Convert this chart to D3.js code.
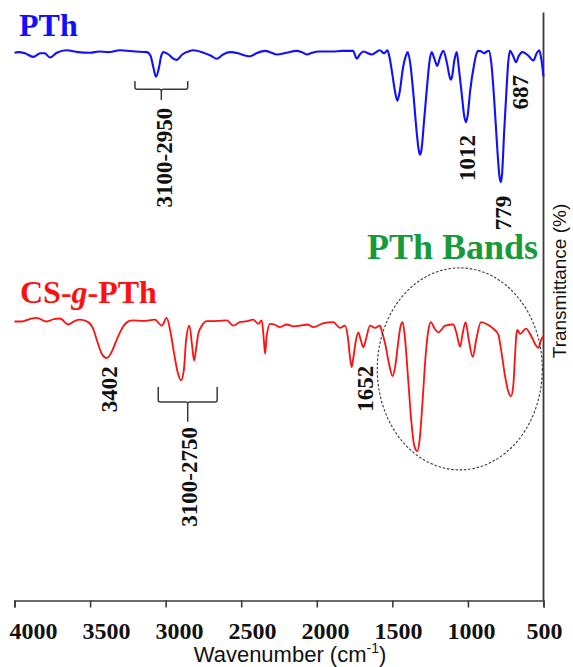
<!DOCTYPE html>
<html>
<head>
<meta charset="utf-8">
<script src="https://cdn.jsdelivr.net/npm/d3@7"></script>
<style>
  html, body { margin: 0; padding: 0; background: #fff; }
  svg { display: block; }
</style>
</head>
<body>
<svg id="chart" width="573" height="667"></svg>
<script>
// ---- Data (wavenumber cm-1, transmittance in arbitrary % units, curves offset) ----
const xTicks = [4000, 3500, 3000, 2500, 2000, 1500, 1000, 500];

const pthSpectrum = [
  [4000, 91.3],[3975, 91.4],[3930, 91.2],[3876, 90.6],[3830, 91.2],[3800, 91.2],[3766, 90.5],
  [3720, 91.3],[3655, 91.7],[3580, 91.4],[3500, 91.3],[3440, 91.5],[3380, 91.4],[3302, 91.7],
  [3200, 91.5],[3125, 91.4],[3100, 90.8],[3080, 88.7],[3064, 87.3],[3045, 88.7],[3030, 90.7],
  [3015, 91.4],[2980, 91.0],[2950, 90.3],[2927, 90.1],[2890, 91.0],[2850, 91.5],[2817, 91.7],
  [2750, 91.3],[2700, 90.8],[2662, 90.3],[2620, 91.0],[2574, 91.4],[2520, 91.2],[2470, 90.8],
  [2441, 90.7],[2400, 91.2],[2342, 91.6],[2300, 91.3],[2264, 91.0],[2200, 91.3],[2132, 91.6],
  [2100, 91.4],[2066, 91.0],[2030, 91.3],[1990, 91.5],[1900, 91.5],[1830, 91.6],[1760, 91.6],
  [1736, 90.3],[1715, 91.0],[1692, 91.5],[1637, 91.0],[1582, 91.7],[1555, 91.2],[1533, 91.7],
  [1520, 90.7],[1500, 87.7],[1480, 84.5],[1467, 83.3],[1452, 84.7],[1430, 88.7],[1410, 90.8],
  [1398, 91.4],[1380, 89.2],[1360, 84.2],[1340, 78.3],[1325, 75.0],[1317, 74.3],[1308, 75.0],
  [1290, 80.0],[1270, 85.8],[1255, 89.7],[1240, 91.4],[1222, 90.3],[1203, 89.1],[1185, 90.5],
  [1163, 91.6],[1140, 89.7],[1120, 87.2],[1114, 86.8],[1105, 87.3],[1090, 90.0],[1074, 91.4],
  [1060, 88.7],[1040, 84.2],[1025, 80.8],[1013, 79.7],[1002, 80.8],[985, 85.0],[960, 89.2],
  [945, 91.0],[931, 91.6],[910, 91.5],[894, 91.2],[875, 91.5],[861, 91.6],[845, 89.5],
  [825, 83.0],[805, 75.0],[792, 70.8],[783, 69.7],[775, 70.8],[760, 78.3],[745, 85.0],
  [735, 89.2],[722, 91.6],[700, 90.7],[682, 89.7],[665, 90.7],[638, 91.4],[600, 90.8],
  [567, 90.0],[545, 91.2],[528, 91.7],[515, 90.3],[500, 87.3]
];

const csgpthSpectrum = [
  [4000, 46.5],[3952, 46.5],[3900, 46.9],[3853, 47.1],[3787, 46.5],[3740, 46.9],[3699, 47.0],
  [3644, 46.0],[3600, 46.6],[3567, 46.8],[3512, 46.4],[3480, 45.3],[3450, 43.0],[3420, 41.0],
  [3390, 40.4],[3360, 41.3],[3320, 43.7],[3280, 45.7],[3240, 46.6],[3214, 46.7],[3150, 46.6],
  [3070, 46.8],[3045, 46.2],[3026, 45.8],[2993, 47.1],[2970, 45.0],[2945, 41.3],[2920, 38.0],
  [2898, 36.7],[2880, 38.3],[2865, 43.3],[2843, 45.8],[2825, 42.5],[2812, 40.0],[2798, 42.0],
  [2784, 44.5],[2760, 45.8],[2728, 46.55],[2650, 46.6],[2596, 46.7],[2552, 45.8],[2510, 46.4],
  [2464, 46.55],[2420, 46.8],[2387, 46.1],[2364, 46.7],[2352, 44.0],[2342, 41.1],[2332, 44.0],
  [2309, 46.1],[2280, 46.0],[2244, 45.55],[2199, 46.0],[2155, 45.7],[2111, 45.8],[2060, 46.0],
  [2023, 45.55],[1960, 46.2],[1891, 46.4],[1846, 45.45],[1813, 45.8],[1795, 44.0],[1780, 40.5],
  [1769, 38.9],[1758, 40.5],[1740, 43.5],[1725, 44.7],[1710, 43.5],[1692, 42.2],[1675, 43.5],
  [1648, 45.8],[1615, 45.45],[1582, 45.8],[1571, 45.0],[1545, 42.5],[1520, 39.2],[1498, 37.4],
  [1480, 39.2],[1460, 43.3],[1445, 45.8],[1432, 46.4],[1415, 43.3],[1395, 36.7],[1375, 30.0],
  [1355, 25.8],[1335, 24.9],[1320, 26.7],[1300, 33.3],[1280, 40.8],[1262, 45.0],[1246, 46.4],
  [1220, 45.3],[1196, 44.7],[1150, 45.8],[1097, 46.0],[1075, 44.5],[1052, 42.3],[1035, 44.5],
  [1015, 46.4],[995, 43.5],[968, 40.6],[945, 43.5],[914, 46.4],[870, 46.0],[832, 45.3],
  [799, 44.3],[780, 41.7],[755, 37.5],[735, 35.0],[715, 34.05],[700, 35.8],[690, 40.0],
  [680, 44.2],[673, 45.1],[655, 44.45],[616, 45.3],[580, 44.0],[550, 42.5],[534, 42.1],
  [515, 43.5],[500, 44.0]
];

// Peak annotations: label, wavenumber of label baseline, transmittance of label centre
const pthPeakLabels = [
  {text: "3100-2950", w: 2960, t: 73.8},
  {text: "1012", w: 953, t: 73.75},
  {text: "779", w: 712, t: 64.6},
  {text: "687", w: 603, t: 84.7}
];
const csPeakLabels = [
  {text: "3402", w: 3324, t: 35.2},
  {text: "3100-2750", w: 2794, t: 20.6},
  {text: "1652", w: 1626, t: 35.3}
];
// brackets: [from wavenumber, to wavenumber, transmittance of arms top, of bar, of stem end]
const brackets = [
  [3203, 2854, 86.6, 85.2, 83.4],
  [3049, 2659, 35.6, 33.1, 29.8]
];

// ---- Layout ----
const svg = d3.select("#chart");
const x = d3.scaleLinear().domain([4000, 500]).range([14.5, 543.5]);
// tick labels in the original figure are spread slightly differently from the ticks
const xLabel = d3.scaleLinear().domain([4000, 500]).range([33, 544]);
const y = d3.scaleLinear().domain([0, 100]).range([600.5, 0.5]);

const serif = "'Liberation Serif', 'Times New Roman', serif";
const sans = "'Liberation Sans', Arial, sans-serif";

// Axes
const xAxis = d3.axisBottom(x).tickValues(xTicks).tickSize(7).tickPadding(14).tickFormat(d3.format("d"));
const gx = svg.append("g").attr("transform", `translate(0,${y(0)})`).call(xAxis);
gx.select(".domain").attr("stroke", "#3a3a3a").attr("stroke-width", 1.6);
gx.selectAll(".tick line").attr("stroke", "#3a3a3a").attr("stroke-width", 1.6);
gx.selectAll(".tick text")
  .attr("fill", "#111").attr("font-family", serif).attr("font-weight", "bold")
  .attr("font-size", 24).attr("dy", "0.71em")
  .attr("x", d => xLabel(d) - x(d));

const yAxis = d3.axisLeft(y).tickValues([]).tickSize(0);
const gy = svg.append("g").attr("transform", `translate(${x(500)},0)`).call(yAxis);
gy.select(".domain").attr("stroke", "#3a3a3a").attr("stroke-width", 1.8)
  .attr("d", `M0,${y(98)}V${y(0)}`);

// Axis titles
const xt = svg.append("text").attr("x", 290).attr("y", 662)
  .attr("text-anchor", "middle").attr("font-family", sans).attr("font-size", 22).attr("fill", "#111");
xt.append("tspan").text("Wavenumber (cm");
xt.append("tspan").attr("font-size", 14).attr("dy", -9).text("-1");
xt.append("tspan").attr("dy", 9).text(")");

svg.append("text").attr("transform", `translate(566,281) rotate(-90)`)
  .attr("text-anchor", "middle").attr("font-family", sans).attr("font-size", 19).attr("fill", "#111")
  .text("Transmittance (%)");

// Spectra
const line = d3.line().x(d => x(d[0])).y(d => y(d[1])).curve(d3.curveMonotoneX);
svg.append("path").datum(pthSpectrum).attr("d", line)
  .attr("fill", "none").attr("stroke", "#1010ff").attr("stroke-width", 2.1);
svg.append("path").datum(csgpthSpectrum).attr("d", line)
  .attr("fill", "none").attr("stroke", "#ff1010").attr("stroke-width", 1.8);

// Brackets
brackets.forEach(b => {
  const x0 = x(b[0]), x1 = x(b[1]), xm = (x0 + x1) / 2;
  const yt = y(b[2]), yb = y(b[3]), ys = y(b[4]);
  svg.append("path")
    .attr("d", `M${x0},${yt}V${yb - 2}Q${x0},${yb} ${x0 + 2},${yb}H${xm - 2}Q${xm},${yb} ${xm},${yb + 2}` +
               `Q${xm},${yb} ${xm + 2},${yb}H${x1 - 2}Q${x1},${yb} ${x1},${yb - 2}V${yt}M${xm},${yb + 2}V${ys}`)
    .attr("fill", "none").attr("stroke", "#3a3a3a").attr("stroke-width", 1.5);
});

// Peak labels
[...pthPeakLabels, ...csPeakLabels].forEach(l => {
  svg.append("text").attr("transform", `translate(${x(l.w)},${y(l.t)}) rotate(-90)`)
    .attr("text-anchor", "middle").attr("font-family", serif).attr("font-weight", "bold")
    .attr("font-size", 23).attr("fill", "#111").text(l.text);
});

// Ellipse around PTh bands
svg.append("ellipse")
  .attr("cx", x(1054)).attr("cy", y(38.6))
  .attr("rx", x(500) - x(1046)).attr("ry", 101)
  .attr("fill", "none").attr("stroke", "#3a3a3a").attr("stroke-width", 1.1).attr("stroke-dasharray", "2.5,1.8");

// Series titles
svg.append("text").attr("x", 19).attr("y", 36)
  .attr("font-family", serif).attr("font-weight", "bold").attr("font-size", 32).attr("fill", "#1010ff")
  .text("PTh");
const cs = svg.append("text").attr("x", 20).attr("y", 303)
  .attr("font-family", serif).attr("font-weight", "bold").attr("font-size", 32).attr("fill", "#ff1010");
cs.append("tspan").text("CS-");
cs.append("tspan").attr("font-style", "italic").text("g");
cs.append("tspan").text("-PTh");
svg.append("text").attr("x", 367).attr("y", 258.5)
  .attr("font-family", serif).attr("font-weight", "bold").attr("font-size", 36).attr("fill", "#169a3a")
  .text("PTh Bands");
</script>
</body>
</html>
